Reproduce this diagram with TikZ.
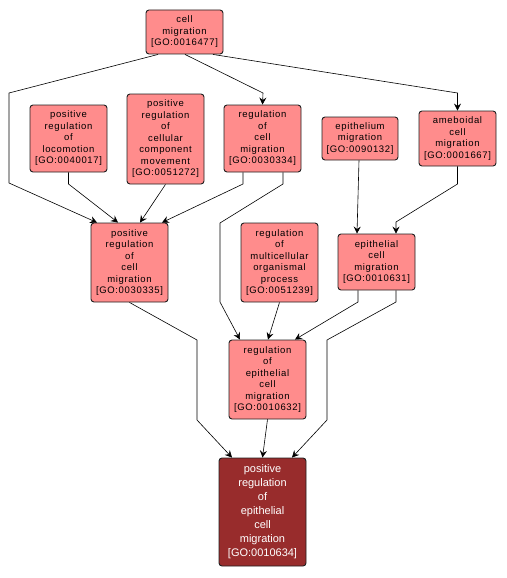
\documentclass[tikz,border=0pt]{standalone}
\usepackage{fontspec}
\setmainfont{Liberation Sans}
\usetikzlibrary{arrows.meta,calc}
\definecolor{boxfill}{HTML}{FF8C8C}
\definecolor{targetfill}{HTML}{982C2C}
\definecolor{boxline}{HTML}{202020}
\tikzset{
  gobox/.style={draw=boxline, line width=0.9pt, fill=boxfill, rounded corners=3pt,
    align=center, inner sep=0pt, font=\fontsize{9.5}{11.5}\selectfont\addfontfeature{LetterSpace=7},
    minimum width=77pt},
  targetbox/.style={draw=boxline, line width=0.9pt, fill=targetfill, rounded corners=3pt,
    align=center, inner sep=0pt, text=white, font=\fontsize{11}{14}\selectfont,
    minimum width=87pt},
  arr/.style={draw=black, line width=0.6pt, -{Stealth[length=7pt,width=7pt,inset=2.5pt]}}
}
\begin{document}
\begin{tikzpicture}[x=1pt,y=-1pt]
\useasboundingbox (0,0) rectangle (506,578);
\node[gobox, minimum height=44pt] (cm) at (184.5,32) {cell\\migration\\{[GO:0016477]}};
\node[gobox, minimum height=67pt] (prl) at (68.5,138.5) {positive\\regulation\\of\\locomotion\\{[GO:0040017]}};
\node[gobox, minimum height=90pt] (prccm) at (165.5,139) {positive\\regulation\\of\\cellular\\component\\movement\\{[GO:0051272]}};
\node[gobox, minimum height=67pt] (rcm) at (262.5,138.5) {regulation\\of\\cell\\migration\\{[GO:0030334]}};
\node[gobox, minimum height=43pt, minimum width=76pt] (em) at (360,138.5) {epithelium\\migration\\{[GO:0090132]}};
\node[gobox, minimum height=55pt] (acm) at (457.5,138.5) {ameboidal\\cell\\migration\\{[GO:0001667]}};
\node[gobox, minimum height=79pt] (prcm) at (129.5,262.5) {positive\\regulation\\of\\cell\\migration\\{[GO:0030335]}};
\node[gobox, minimum height=79pt] (rmop) at (279.5,262.5) {regulation\\of\\multicellular\\organismal\\process\\{[GO:0051239]}};
\node[gobox, minimum height=56pt] (ecm) at (376.5,262) {epithelial\\cell\\migration\\{[GO:0010631]}};
\node[gobox, minimum height=79pt] (recm) at (267.5,379.5) {regulation\\of\\epithelial\\cell\\migration\\{[GO:0010632]}};
\node[targetbox, minimum height=108pt] (tgt) at (262.5,512) {positive\\regulation\\of\\epithelial\\cell\\migration\\{[GO:0010634]}};
% edges
\draw[arr] ([xshift=-26.5pt]cm.south) -- (9,93) -- (9,183) -- ([xshift=-32.5pt]prcm.north);
\draw[arr] ([xshift=0.5pt]cm.south) -- (263,93) -- (rcm.north);
\draw[arr] ([xshift=28.5pt]cm.south) -- (457.5,93) -- (acm.north);
\draw[arr] (prl.south) -- (68.5,184) -- ([xshift=-11.5pt]prcm.north);
\draw[arr] (prccm.south) -- ([xshift=10.5pt]prcm.north);
\draw[arr] ([xshift=-19.5pt]rcm.south) -- (243,184) -- ([xshift=32.5pt]prcm.north);
\draw[arr] ([xshift=20.5pt]rcm.south) -- (283,184) -- (220,223) -- (220,302) -- ([xshift=-27.5pt]recm.north);
\draw[arr] ([xshift=-1pt]em.south) -- ([xshift=-19.5pt]ecm.north);
\draw[arr] (acm.south) -- (457.5,184) -- (396,222) -- ([xshift=19.5pt]ecm.north);
\draw[arr] (rmop.south) -- ([xshift=0.5pt]recm.north);
\draw[arr] ([xshift=-18.5pt]ecm.south) -- (358,302) -- ([xshift=27.5pt]recm.north);
\draw[arr] ([xshift=19.5pt]ecm.south) -- (396,302) -- (327,340) -- (327,420) -- ([xshift=29.5pt]tgt.north);
\draw[arr] (prcm.south) -- (197,340) -- (197,420) -- ([xshift=-30.5pt]tgt.north);
\draw[arr] (recm.south) -- (tgt.north);
\end{tikzpicture}
\end{document}
